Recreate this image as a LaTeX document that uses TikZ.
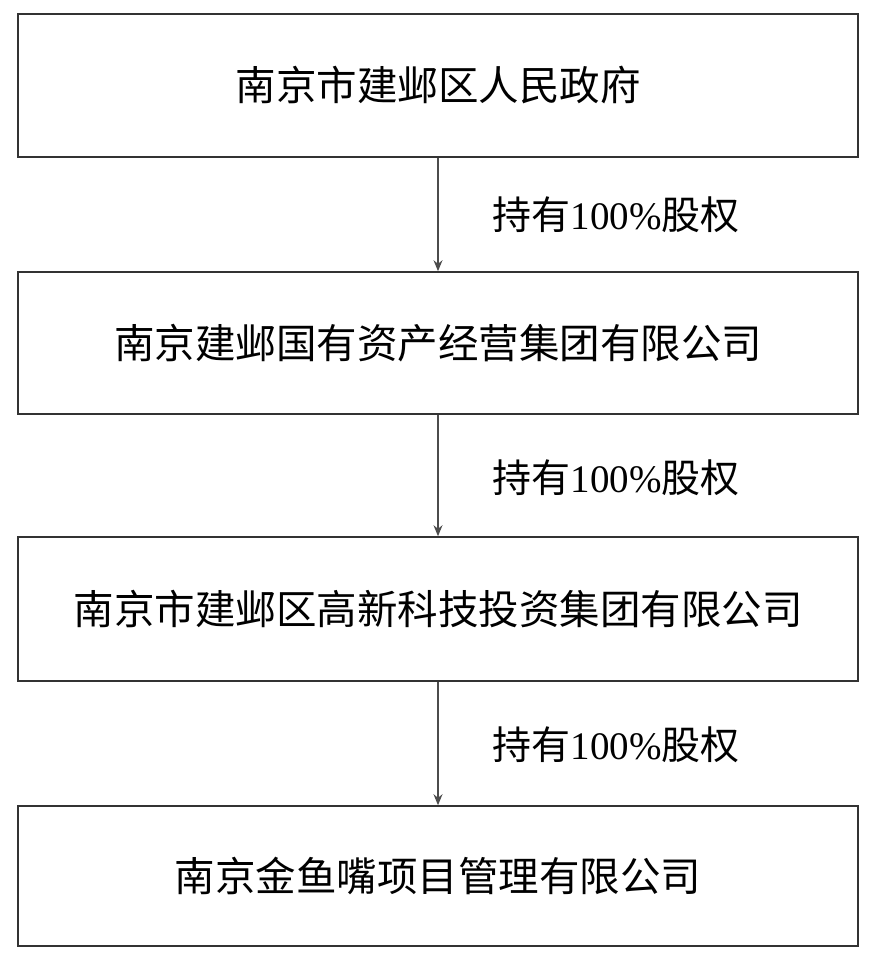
\documentclass[tikz,border=0pt]{standalone}
\usepackage{fontspec}
\setmainfont{Liberation Serif}
\newfontfamily\cjk{Noto Sans CJK SC}
\usetikzlibrary{arrows.meta}
\begin{document}
\begin{tikzpicture}[x=1pt,y=-1pt,
  boxn/.style={draw=black!80,line width=1.6pt,minimum width=840pt,inner sep=0pt,font=\fontsize{40.5}{46}\selectfont\cjk},
  conn/.style={draw=black!70,line width=1.1pt,-{Stealth[length=11pt,width=9pt]}},
  lbl/.style={font=\fontsize{39}{44}\selectfont}]
\useasboundingbox (0,0) rectangle (876,960);
\node[boxn,minimum height=143pt] (a) at (438,85.5) {南京市建邺区人民政府};
\node[boxn,minimum height=142pt] (b) at (438,343) {南京建邺国有资产经营集团有限公司};
\node[boxn,minimum height=144pt] (c) at (438,609) {南京市建邺区高新科技投资集团有限公司};
\node[boxn,minimum height=140pt] (d) at (438,876) {南京金鱼嘴项目管理有限公司};
\draw[conn] (a) -- (b);
\draw[conn] (b) -- (c);
\draw[conn] (c) -- (d);
\node[lbl] (l1) at (616,215) {{\cjk 持有}100\%{\cjk 股权}};
\node[lbl] (l2) at (616,478) {{\cjk 持有}100\%{\cjk 股权}};
\node[lbl] (l3) at (616,745) {{\cjk 持有}100\%{\cjk 股权}};
\end{tikzpicture}
\end{document}
